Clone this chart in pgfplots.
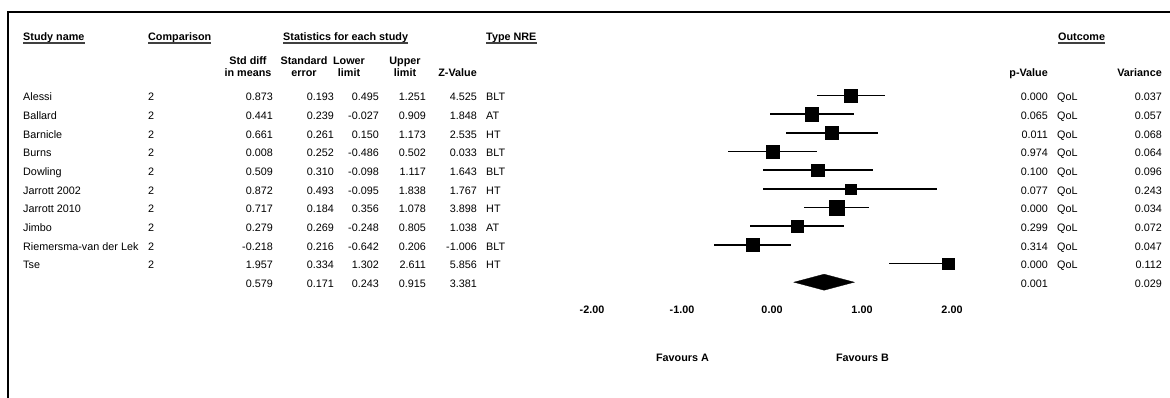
\documentclass[border=0pt]{standalone}
\usepackage{fontspec}
\setmainfont{Liberation Sans}
\usepackage{pgfplots}
\usepackage{pgfplotstable}
\pgfplotsset{compat=1.18}
\newcommand\fs{\fontsize{10.8bp}{13bp}\selectfont}

\pgfplotstableread{
row es lo hi ms
-1 0.873 0.495 1.251 6.9
-2 0.441 -0.027 0.909 6.7
-3 0.661 0.150 1.173 6.6
-4 0.008 -0.486 0.502 6.6
-5 0.509 -0.098 1.117 6.4
-6 0.872 -0.095 1.838 5.2
-7 0.717 0.356 1.078 7.2
-8 0.279 -0.248 0.805 6.3
-9 -0.218 -0.642 0.206 6.6
-10 1.957 1.302 2.611 5.9
}\studies

\tikzset{
  L/.style={font=\fs, inner sep=0pt, anchor=base west},
  R/.style={font=\fs, inner sep=0pt, anchor=base east},
  C/.style={font=\fs\bfseries, inner sep=0pt, anchor=base},
  H/.style={font=\fs\bfseries, inner sep=0pt, anchor=base west},
  HR/.style={font=\fs\bfseries, inner sep=0pt, anchor=base east},
}
\newcommand\ul[1]{\draw[line width=1.1bp, black!75] ([yshift=-3bp]#1.base west) -- ([yshift=-3bp]#1.base east);}

\begin{document}
\begin{tikzpicture}
\path[use as bounding box] (0,0) rectangle (1170bp,-398bp);
\draw[line width=2.3bp, line join=miter] (1171bp,-12.3bp) -- (7.7bp,-12.3bp) -- (7.7bp,-399bp);

\begin{axis}[
  at={(592bp,-76.83bp)}, anchor=north west,
  scale only axis, width=360bp, height=224.04bp,
  xmin=-2, xmax=2, ymin=-12, ymax=0,
  axis line style={draw=none},
  xtick={-2,-1,0,1,2},
  xticklabels={-2.00,-1.00,0.00,1.00,2.00},
  ytick=\empty, major tick length=0pt,
  xticklabel style={font=\fs\bfseries, yshift=-1.8bp},
  clip=true, clip marker paths=false,
]
\addplot[black, only marks, mark=none,
  error bars/.cd, x dir=both, x explicit, error mark=none,
  error bar style={line width=1.7bp, black}]
  table[x=es, y=row,
    x error minus expr=\thisrow{es}-\thisrow{lo},
    x error plus expr=\thisrow{hi}-\thisrow{es}] {\studies};
\addplot[scatter, only marks, mark=square*,
  scatter/use mapped color={draw=black, fill=black},
  mark options={line width=0.2bp},
  visualization depends on={\thisrow{ms}\as\msz},
  scatter/@pre marker code/.append style={/tikz/mark size=\msz bp}]
  table[x=es, y=row] {\studies};
\addplot[fill=black, draw=black, line width=0.3bp]
  coordinates {(0.243,-11) (0.579,-10.57) (0.915,-11) (0.579,-11.43)} -- cycle;
\end{axis}

% headers
\node[H] (h1) at (23bp,-40bp) {Study name}; \ul{h1}
\node[H] (h2) at (148bp,-40bp) {Comparison}; \ul{h2}
\node[H] (h3) at (283bp,-40bp) {Statistics for each study}; \ul{h3}
\node[H] (h4) at (486bp,-40bp) {Type NRE}; \ul{h4}
\node[H] (h5) at (1058bp,-40bp) {Outcome}; \ul{h5}

\node[C] at (248bp,-64bp) {Std diff};
\node[C] at (248bp,-76.5bp) {in means};
\node[C] at (304bp,-64bp) {Standard};
\node[C] at (304bp,-76.5bp) {error};
\node[C] at (349bp,-64bp) {Lower};
\node[C] at (349bp,-76.5bp) {limit};
\node[C] at (405bp,-64bp) {Upper};
\node[C] at (405bp,-76.5bp) {limit};
\node[HR] at (477bp,-76.5bp) {Z-Value};
\node[HR] at (1048bp,-76.5bp) {p-Value};
\node[HR] at (1162bp,-76.5bp) {Variance};

% rows
\foreach \yb/\nm/\cp/\es/\se/\lo/\hi/\z/\ty/\p/\oc/\v in {
  100.8/Alessi/2/0.873/0.193/0.495/1.251/4.525/BLT/0.000/QoL/0.037,
  119.5/Ballard/2/0.441/0.239/-0.027/0.909/1.848/AT/0.065/QoL/0.057,
  138.1/Barnicle/2/0.661/0.261/0.150/1.173/2.535/HT/0.011/QoL/0.068,
  156.8/Burns/2/0.008/0.252/-0.486/0.502/0.033/BLT/0.974/QoL/0.064,
  175.5/Dowling/2/0.509/0.310/-0.098/1.117/1.643/BLT/0.100/QoL/0.096,
  194.2/Jarrott 2002/2/0.872/0.493/-0.095/1.838/1.767/HT/0.077/QoL/0.243,
  212.8/Jarrott 2010/2/0.717/0.184/0.356/1.078/3.898/HT/0.000/QoL/0.034,
  231.5/Jimbo/2/0.279/0.269/-0.248/0.805/1.038/AT/0.299/QoL/0.072,
  250.2/Riemersma-van der Lek/2/-0.218/0.216/-0.642/0.206/-1.006/BLT/0.314/QoL/0.047,
  268.8/Tse/2/1.957/0.334/1.302/2.611/5.856/HT/0.000/QoL/0.112,
  287.5/{}/{}/0.579/0.171/0.243/0.915/3.381/{}/0.001/{}/0.029}{
  \node[L] at (23bp,-\yb bp) {\nm};
  \node[L] at (148bp,-\yb bp) {\cp};
  \node[R] at (273bp,-\yb bp) {\es};
  \node[R] at (334bp,-\yb bp) {\se};
  \node[R] at (379bp,-\yb bp) {\lo};
  \node[R] at (426bp,-\yb bp) {\hi};
  \node[R] at (477bp,-\yb bp) {\z};
  \node[L] at (486bp,-\yb bp) {\ty};
  \node[R] at (1048bp,-\yb bp) {\p};
  \node[L] at (1057bp,-\yb bp) {\oc};
  \node[R] at (1162bp,-\yb bp) {\v};
}

\node[C] at (682.5bp,-361bp) {Favours A};
\node[C] at (862.5bp,-361bp) {Favours B};
\end{tikzpicture}
\end{document}
